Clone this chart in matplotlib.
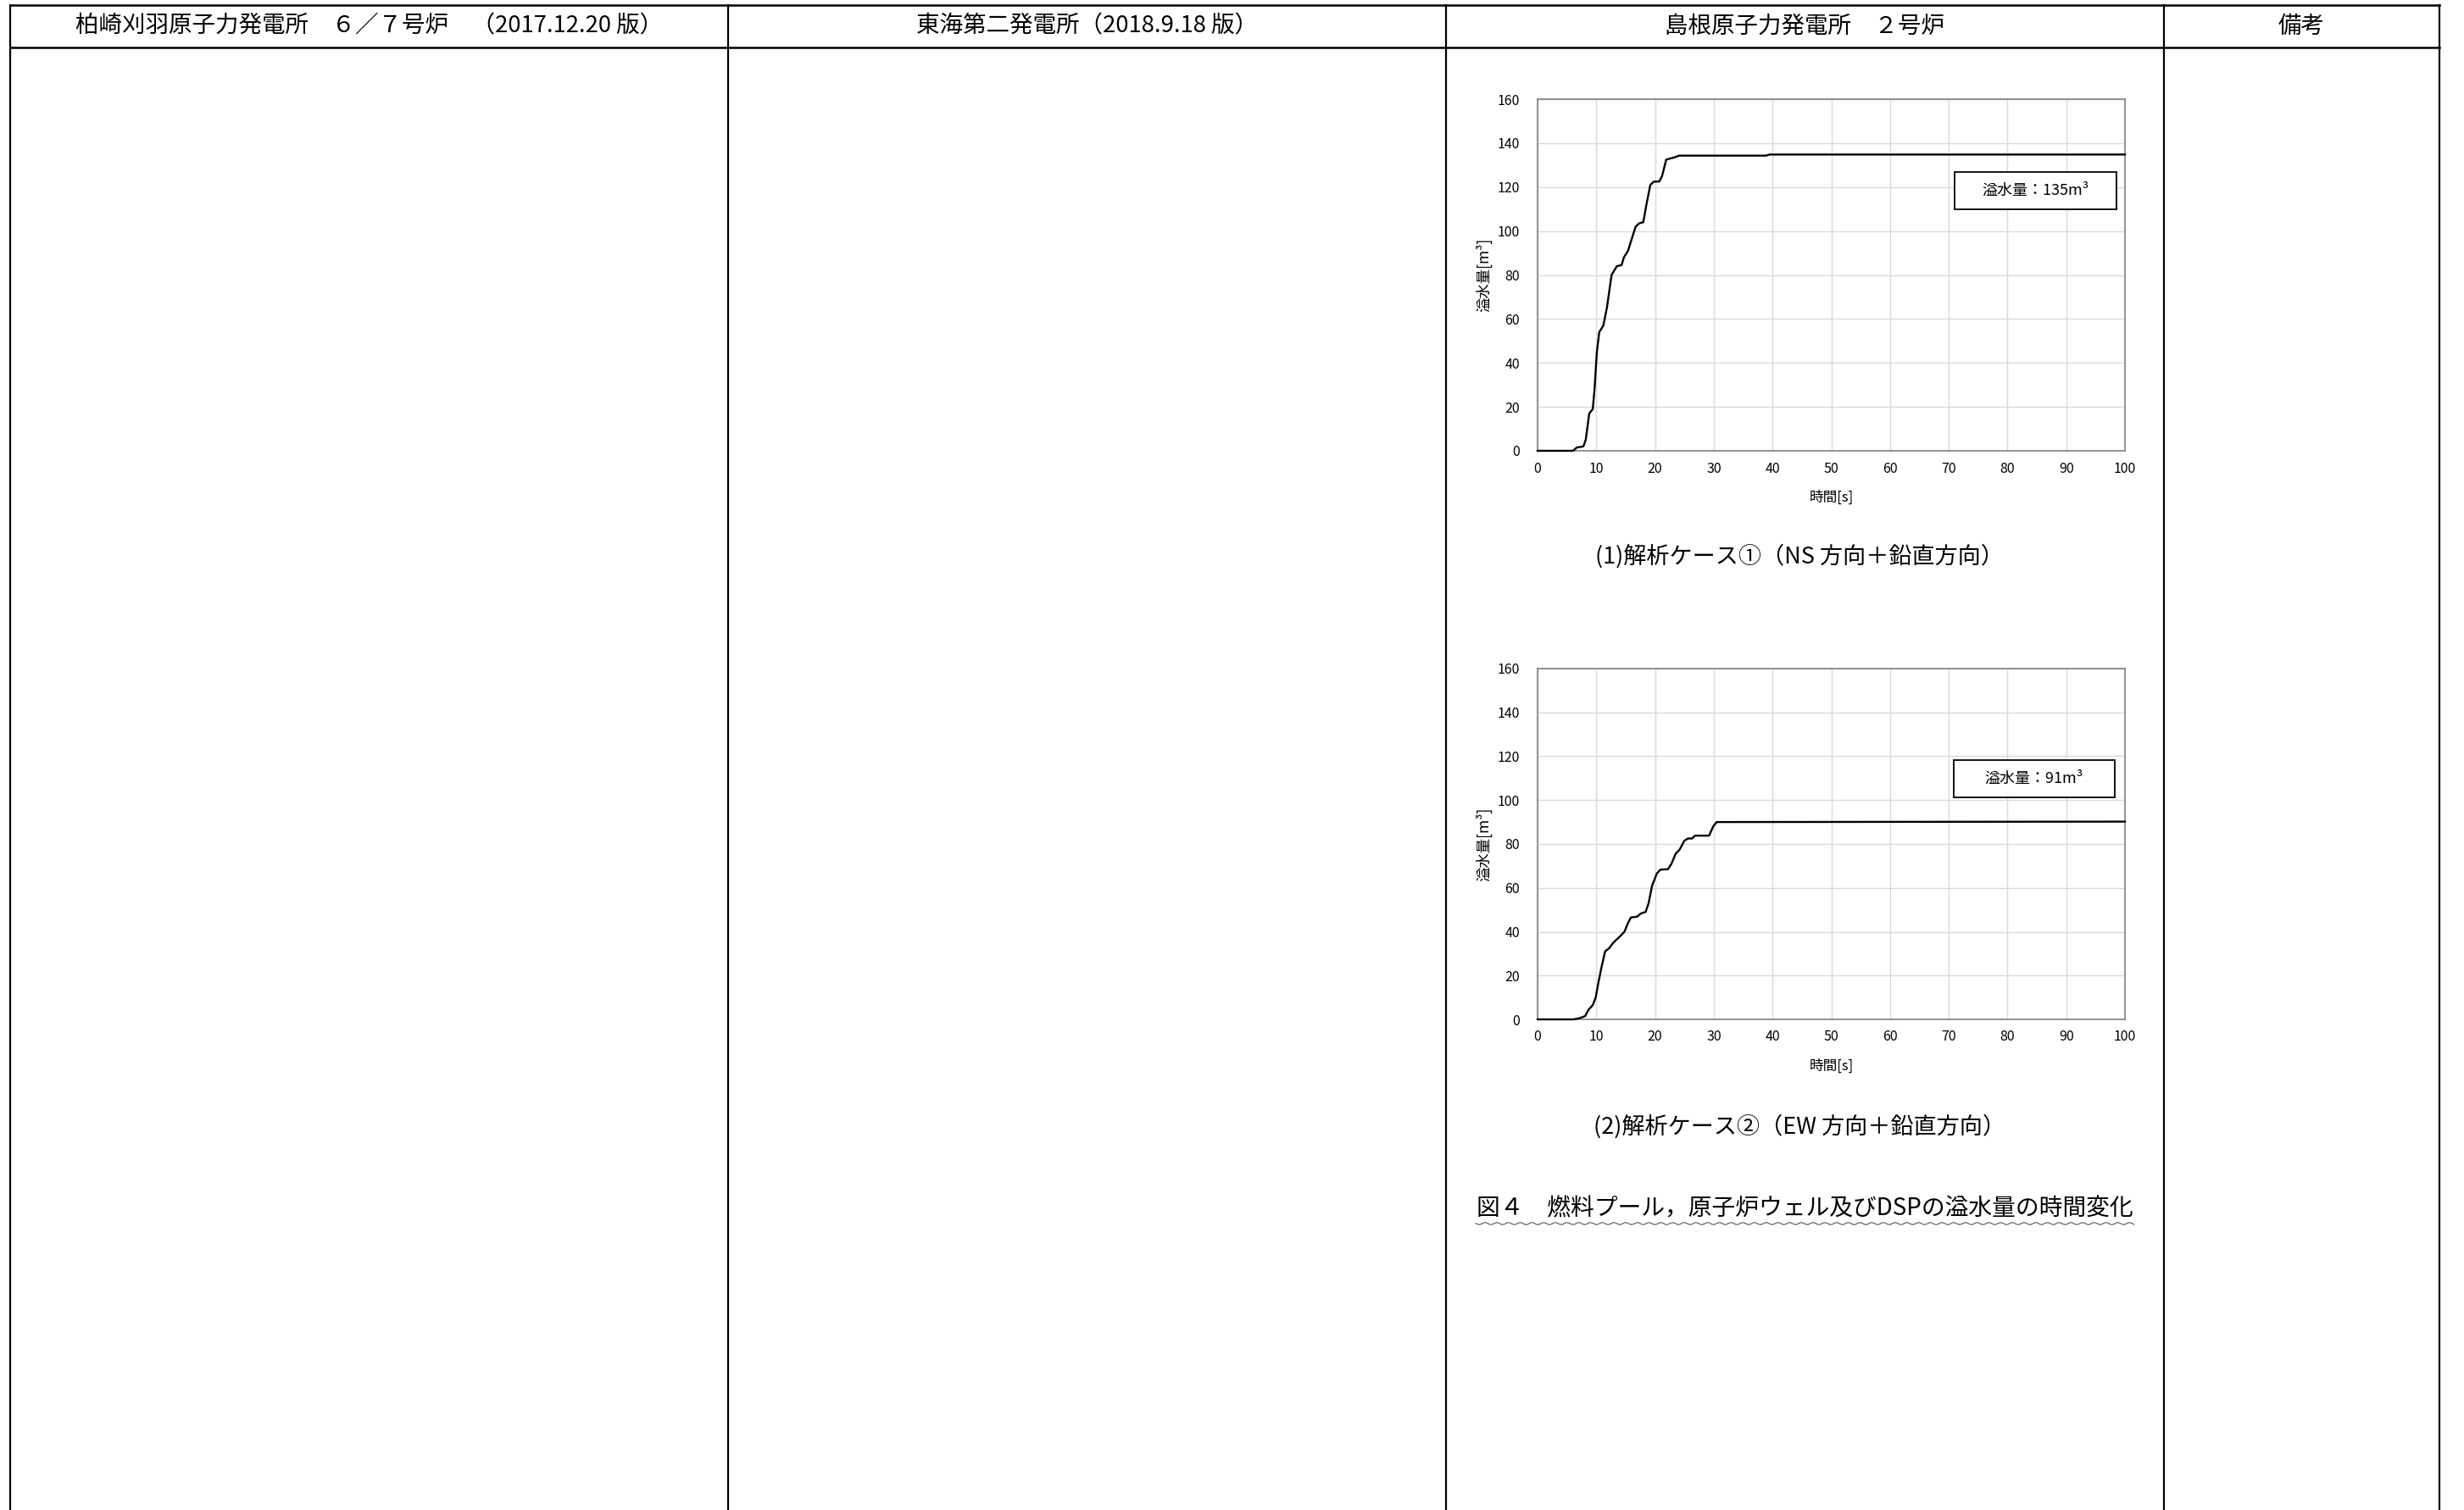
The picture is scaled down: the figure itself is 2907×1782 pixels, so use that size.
import numpy as np
import matplotlib.pyplot as plt
from matplotlib.patches import Rectangle

plt.rcParams['font.family'] = ['Noto Sans CJK JP', 'DejaVu Sans']

# 表のヘッダ
headers = ["柏崎刈羽原子力発電所　６／７号炉　（2017.12.20 版）",
           "東海第二発電所（2018.9.18 版）",
           "島根原子力発電所　２号炉",
           "備考"]

# 解析ケース① (NS方向＋鉛直方向) 溢水量 [m3]
t1 = [0, 6.0, 6.7, 7.8, 8.2, 8.8, 9.4, 9.7, 10.1, 10.5, 11.2, 11.8, 12.6, 13.5,
      14.3, 14.7, 15.4, 16.1, 16.7, 17.3, 18.0, 18.6, 19.2, 19.8, 20.7, 21.2,
      21.9, 23.3, 24.1, 38.9, 39.5, 100]
v1 = [0, 0, 1.5, 2, 5, 17, 19, 28, 45, 54, 57, 65, 80, 84,
      84.5, 88, 91, 97, 102, 103.5, 104, 113, 121, 122.5, 122.5, 125,
      132.5, 133.5, 134.3, 134.3, 134.8, 134.8]

# 解析ケース② (EW方向＋鉛直方向) 溢水量 [m3]
t2 = [0, 6.1, 7.1, 8.1, 8.7, 9.4, 9.9, 10.3, 10.9, 11.5, 12.2, 12.9, 13.9, 14.8,
      15.4, 15.9, 16.9, 17.6, 18.4, 18.9, 19.5, 20.3, 20.9, 22.2, 22.8, 23.5,
      24.2, 25.0, 25.6, 26.3, 26.8, 29.2, 29.9, 30.5, 100]
v2 = [0, 0, 0.5, 1.5, 4.5, 6.5, 10, 16, 24, 31, 32.5, 35, 37.5, 40,
      44, 46.5, 46.8, 48.3, 49, 53, 61, 66.5, 68.3, 68.5, 71, 75.5,
      77.5, 81.5, 82.5, 82.5, 83.8, 83.8, 88, 90, 90.2]

totals = ["135", "91"]
case_labels = ["(1)解析ケース①（NS 方向＋鉛直方向）",
               "(2)解析ケース②（EW 方向＋鉛直方向）"]
fig_title = "図４　燃料プール，原子炉ウェル及びDSPの溢水量の時間変化"

W, H = 2907, 1782
fig = plt.figure(figsize=(W / 100, H / 100), dpi=100)

# 背景(表の罫線)
bg = fig.add_axes([0, 0, 1, 1])
bg.set_xlim(0, W)
bg.set_ylim(H, 0)
bg.axis('off')

cols = [12, 859, 1706, 2553, 2878]
for x in cols:
    bg.plot([x, x], [6, H], color='black', lw=1.6)
for y in [6, 56]:
    bg.plot([cols[0], cols[-1]], [y, y], color='black', lw=1.8)
for i, h in enumerate(headers):
    bg.text((cols[i] + cols[i + 1]) / 2, 31, h, ha='center', va='center', fontsize=19.8)

bg.text(2123, 656, case_labels[0], ha='center', va='center', fontsize=19.5)
bg.text(2123, 1329, case_labels[1], ha='center', va='center', fontsize=19.5)
bg.text(2129, 1426, fig_title, ha='center', va='center', fontsize=20)
wx = np.linspace(1741, 2518, 500)
bg.plot(wx, 1444 + 1.2 * np.sin(wx / 2.2), color='#555555', lw=0.8)


def pos(l, t, r, b):
    return [l / W, 1 - b / H, (r - l) / W, (b - t) / H]


charts = [(pos(1814, 117, 2507, 532), t1, v1, totals[0], (71.0, 110.0)),
          (pos(1814, 789, 2507, 1203), t2, v2, totals[1], (70.8, 101.4))]

for rect, t, v, total, box_xy in charts:
    ax = fig.add_axes(rect)
    ax.plot(t, v, color='black', lw=1.7, clip_on=False, zorder=3)
    ax.set_xlim(0, 100)
    ax.set_ylim(0, 160)
    ax.set_xticks(np.arange(0, 101, 10))
    ax.set_yticks(np.arange(0, 161, 20))
    ax.grid(True, color='#d9d9d9', lw=1.0)
    ax.set_axisbelow(True)
    for s in ax.spines.values():
        s.set_color('#808080')
        s.set_linewidth(1.2)
    ax.tick_params(axis='y', length=0, labelsize=11.5, pad=15)
    ax.tick_params(axis='x', length=0, labelsize=11.5, pad=9)
    ax.set_xlabel("時間[s]", fontsize=12, labelpad=12)
    ax.set_ylabel("溢水量[m³]", fontsize=12.5, labelpad=5)
    ax.add_patch(Rectangle(box_xy, 27.5, 17, facecolor='white', edgecolor='black',
                           lw=1.3, zorder=4))
    ax.text(box_xy[0] + 13.75, box_xy[1] + 8.5, f"溢水量：{total}m³", ha='center',
            va='center', fontsize=13, zorder=5)

fig.savefig("out.png", dpi=100)
